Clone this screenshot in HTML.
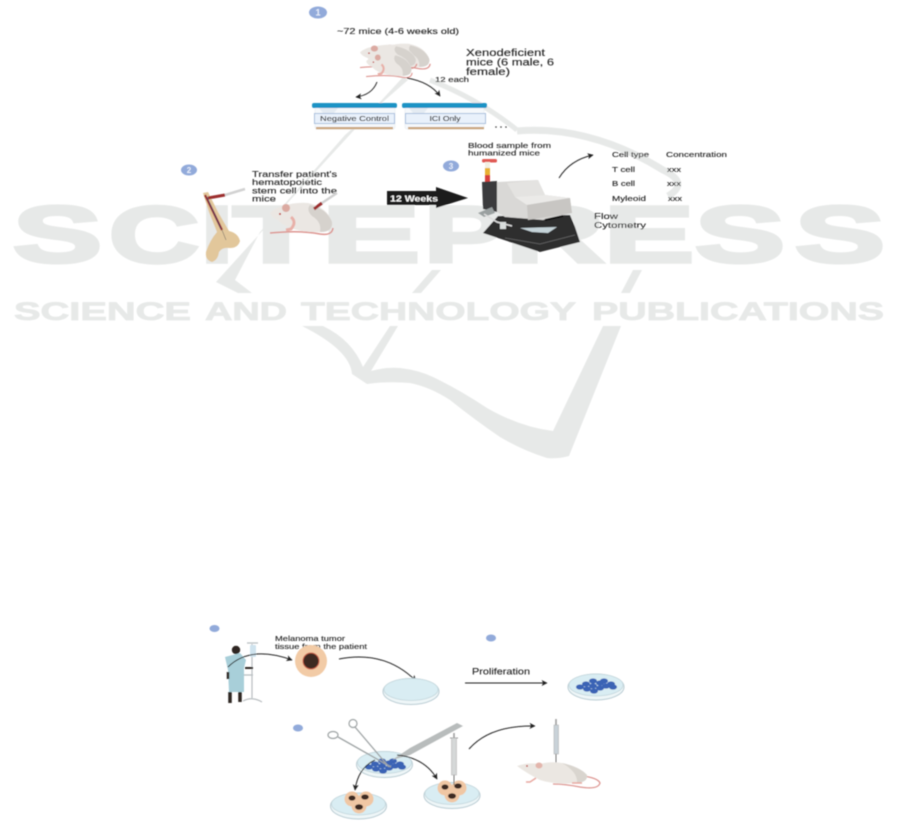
<!DOCTYPE html>
<html><head><meta charset="utf-8"><style>
html,body{margin:0;padding:0;background:#fff;width:901px;height:835px;overflow:hidden}
svg{display:block}
text{font-family:"Liberation Sans",sans-serif;fill:#222;stroke:#222;stroke-width:.12}
.w text{fill:#e7e9e8;stroke:#e7e9e8;font-weight:700}
.w1 text{font-size:80px;stroke-width:3.5px}
.w2 text{font-size:25px;stroke-width:.8px}
</style></head><body>
<svg width="901" height="835" viewBox="0 0 901 835" xmlns="http://www.w3.org/2000/svg">
<defs>
<filter id="b" x="-5%" y="-5%" width="110%" height="110%"><feGaussianBlur stdDeviation="0.4"/></filter>
<marker id="a" viewBox="0 0 10 10" refX="9" refY="5" markerWidth="6" markerHeight="6" orient="auto"><path d="M0 0L10 5L0 10L2.5 5Z" fill="#222"/></marker>
<g id="mouse">
<path d="M270 233Q300 230 320 234Q332 236 333 228" fill="none" stroke="#dd9490" stroke-width="1.500"/>
<path d="M270 213Q276 207 283 206Q296 202 308 203Q327 207 332 222Q333 232 322 232Q305 233 290 228Q281 224 278 220Q272 218 270 213Z" fill="#ebe7e3"/>
<path d="M310 205Q327 209 332 222Q333 232 320 232Q322 222 312 216Q306 210 310 205Z" fill="#d6d2cd"/>
<ellipse cx="286" cy="208" rx="4" ry="4" fill="#dbaaa2"/>
<path d="M291 217Q297 222 291 229L286 230" fill="none" stroke="#e8b0a8" stroke-width="3"/>
<circle cx="280" cy="214" r="1" fill="#b33"/>
</g>
<g id="dish">
<ellipse cx="0" cy="1" rx="28" ry="13" fill="#eef6f8" stroke="#b9ccd3" stroke-width="1"/>
<ellipse cx="0" cy="-1" rx="27" ry="11" fill="#d9edf3" stroke="#c2d5db" stroke-width=".8"/>
</g>
<g id="cells" fill="#3a64b5">
<ellipse cx="-16" cy="1" rx="4" ry="2.600"/><ellipse cx="-10" cy="-2" rx="4" ry="2.600"/><ellipse cx="-9" cy="3" rx="4" ry="2.600"/><ellipse cx="-3" cy="-5" rx="4" ry="2.600"/><ellipse cx="-3" cy="0" rx="4" ry="2.600"/><ellipse cx="-2" cy="5" rx="4" ry="2.600"/><ellipse cx="4" cy="-3" rx="4" ry="2.600"/><ellipse cx="4" cy="2" rx="4" ry="2.600"/><ellipse cx="8" cy="-5" rx="4" ry="2.600"/><ellipse cx="10" cy="0" rx="4" ry="2.600"/><ellipse cx="15" cy="-2" rx="4" ry="2.600"/><ellipse cx="17" cy="1" rx="4" ry="2.600"/>
</g>
<g id="blobs">
<circle cx="-7" cy="-2" r="7.500" fill="#f0c7a4"/><circle cx="7" cy="-2" r="7.500" fill="#f0c7a4"/><circle cx="0" cy="5" r="7.500" fill="#f0c7a4"/>
<ellipse cx="-7" cy="-3" rx="3.500" ry="2.600" fill="#3d2a22"/><ellipse cx="6" cy="-4" rx="3.800" ry="2.600" fill="#3d2a22"/><ellipse cx="0" cy="6" rx="4" ry="2.800" fill="#3d2a22"/>
</g>
</defs>
<g filter="url(#b)">
<!-- watermark -->
<g fill="#e7e9e8" stroke="none">
<path d="M403 77L322 165L216 282L238 293L252 293L235 280L260 232L345 135L408 80Z"/>
<path d="M302 326L323 326Q352 340 363 367L390 326L398 326L371 371Q385 367 400 368Q418 370 433 377Q460 390 487 408Q520 427 553 431L603 326L621 326L569 456Q558 459 547 458Q522 450 500 437Q475 420 450 400Q430 387 410 383Q388 381 367 384L352 374Q350 350 302 326Z"/>
<path d="M633 270L642 270L630 293L621 293Z"/>
<path d="M432 270L441 270L421 293L412 293Z"/>
<path d="M443 248L447 248L441 258L437 258Z"/>
</g>
<path d="M430 80Q480 100 517 130" fill="none" stroke="#e7e9e8" stroke-width="5"/>
<path d="M517 131Q590 125 663 170Q690 183 668 196" fill="none" stroke="#e7e9e8" stroke-width="7"/>
<g class="w w1">
<text x="13" y="262" textLength="89" lengthAdjust="spacingAndGlyphs">S</text>
<text x="109" y="262" textLength="90" lengthAdjust="spacingAndGlyphs">C</text>
<text x="201" y="262" textLength="32" lengthAdjust="spacingAndGlyphs">I</text>
<text x="233" y="262" textLength="86" lengthAdjust="spacingAndGlyphs">T</text>
<text x="322" y="262" textLength="98" lengthAdjust="spacingAndGlyphs">E</text>
<text x="424" y="262" textLength="82" lengthAdjust="spacingAndGlyphs">P</text>
<text x="506" y="262" textLength="98" lengthAdjust="spacingAndGlyphs">R</text>
<text x="604" y="262" textLength="90" lengthAdjust="spacingAndGlyphs">E</text>
<text x="695" y="262" textLength="90" lengthAdjust="spacingAndGlyphs">S</text>
<text x="795" y="262" textLength="90" lengthAdjust="spacingAndGlyphs">S</text>
</g>
<g class="w w2">
<text x="14" y="320" textLength="177" lengthAdjust="spacingAndGlyphs">SCIENCE</text>
<text x="205" y="320" textLength="82" lengthAdjust="spacingAndGlyphs">AND</text>
<text x="301" y="320" textLength="275" lengthAdjust="spacingAndGlyphs">TECHNOLOGY</text>
<text x="592" y="320" textLength="292" lengthAdjust="spacingAndGlyphs">PUBLICATIONS</text>
</g>

<!-- top: step 1 -->
<ellipse cx="318" cy="12.500" rx="9" ry="6" fill="#92aada"/><text x="318" y="15.500" font-size="9" font-weight="700" text-anchor="middle" style="fill:#e8eefa;stroke:none">1</text>
<text x="337" y="34" font-size="8" textLength="122" lengthAdjust="spacingAndGlyphs">~72 mice (4-6 weeks old)</text>
<use href="#mouse" transform="translate(143.800,-118.600) scale(.86,.8)"/>
<use href="#mouse" transform="translate(117,-109.500) scale(.9,.76)"/>
<use href="#mouse" transform="translate(169,-100.500) scale(.73,.76)"/>
<text x="466" y="56" font-size="10" textLength="79" lengthAdjust="spacingAndGlyphs">Xenodeficient</text>
<text x="466" y="65.500" font-size="10" textLength="88" lengthAdjust="spacingAndGlyphs">mice (6 male, 6</text>
<text x="466" y="75" font-size="10" textLength="44" lengthAdjust="spacingAndGlyphs">female)</text>
<text x="435" y="82" font-size="7" textLength="34" lengthAdjust="spacingAndGlyphs">12 each</text>
<path d="M377 82Q372 95 356 97" fill="none" stroke="#222" stroke-width="1" marker-end="url(#a)"/>
<path d="M407 78Q430 82 440 96" fill="none" stroke="#222" stroke-width="1" marker-end="url(#a)"/>

<rect x="315" y="107" width="80" height="22" rx="2" fill="#f5f8fb" stroke="#e6ebf0" stroke-width=".6"/>
<path d="M319 108H338L334 113H323Z" fill="#e4ebf2"/>
<rect x="312" y="103" width="85" height="5" rx="2" fill="#1c93c5"/>
<rect x="314.500" y="113.500" width="80" height="10" fill="#e9f1fb" stroke="#a9c0dd"/>
<rect x="316" y="127" width="77" height="2.200" fill="#c9a47a"/>
<text x="354.500" y="120.800" font-size="7" text-anchor="middle" textLength="69" lengthAdjust="spacingAndGlyphs">Negative Control</text>
<rect x="405" y="107" width="79" height="22" rx="2" fill="#f5f8fb" stroke="#e6ebf0" stroke-width=".6"/>
<path d="M409 108H428L424 113H413Z" fill="#e4ebf2"/>
<rect x="402" y="103" width="85" height="5" rx="2" fill="#1c93c5"/>
<rect x="405.500" y="113.500" width="80" height="10" fill="#e9f1fb" stroke="#a9c0dd"/>
<rect x="408" y="127" width="76" height="2.200" fill="#c9a47a"/>
<text x="445" y="120.800" font-size="7" text-anchor="middle" textLength="31" lengthAdjust="spacingAndGlyphs">ICI Only</text>
<g fill="#333"><circle cx="496" cy="127" r=".8"/><circle cx="501" cy="127" r=".8"/><circle cx="506" cy="127" r=".8"/></g>

<!-- step 2 -->
<ellipse cx="189" cy="170" rx="8" ry="5.500" fill="#92aada"/><text x="189" y="173" font-size="8" font-weight="700" text-anchor="middle" style="fill:#e8eefa;stroke:none">2</text>
<path d="M203 193L208 192L218 212L229 231Q238 233 240 241Q238 248 230 248Q222 247 219 252Q218 260 212 262Q205 260 206 252Q210 240 217 232L209 212Z" fill="#e2c79b"/>
<path d="M205 195L222 230" stroke="#9c2f2f" stroke-width="2.200" fill="none"/>
<path d="M207 197L221 229" stroke="#33416e" stroke-width=".8" fill="none"/>
<path d="M222 230L226 240" stroke="#555" stroke-width=".5"/>
<path d="M208 198L225 195" stroke="#9c2f2f" stroke-width="3"/>
<path d="M225 195L245 189" stroke="#d2d2d2" stroke-width="2.500"/>
<text x="252" y="177" font-size="8.500" textLength="85" lengthAdjust="spacingAndGlyphs">Transfer patient's</text>
<text x="252" y="185" font-size="8.500" textLength="70" lengthAdjust="spacingAndGlyphs">hematopoietic</text>
<text x="252" y="193.500" font-size="8.500" textLength="85" lengthAdjust="spacingAndGlyphs">stem cell into the</text>
<text x="252" y="201.500" font-size="8.500" textLength="24" lengthAdjust="spacingAndGlyphs">mice</text>
<use href="#mouse"/>
<path d="M314 209L322 203" stroke="#9c2f2f" stroke-width="3"/><path d="M322 203L337 193" stroke="#d2d2d2" stroke-width="2.500"/>

<!-- arrow -->
<path d="M387 191H436V187L468 198L436 208V205H387Z" fill="#1c1c1c"/>
<text x="390" y="201.500" font-size="8.500" font-weight="700" textLength="48" lengthAdjust="spacingAndGlyphs" style="fill:#fff;stroke:none">12 Weeks</text>

<!-- step 3 -->
<ellipse cx="451" cy="166" rx="8" ry="5.500" fill="#92aada"/><text x="451" y="169" font-size="8" font-weight="700" text-anchor="middle" style="fill:#e8eefa;stroke:none">3</text>
<text x="468" y="148" font-size="7.500" textLength="83" lengthAdjust="spacingAndGlyphs">Blood sample from</text>
<text x="468" y="155.500" font-size="7.500" textLength="72" lengthAdjust="spacingAndGlyphs">humanized mice</text>
<rect x="482" y="159" width="15" height="3.500" rx="1.500" fill="#e05a55"/>
<rect x="485" y="162" width="5" height="6" fill="#f3f0e2"/><rect x="485" y="168" width="5" height="7" fill="#e8b030"/><rect x="485" y="175" width="5" height="10" fill="#d8403c"/>
<path d="M482 182L497 181V212L483 209Z" fill="#3a3a3c"/>
<path d="M483 233L498 216L570 215L575 227L580 242L540 252Z" fill="#2d2d2f"/>
<path d="M505 238L540 244L575 235" stroke="#666" stroke-width=".7" fill="none"/>
<path d="M520 228L557 227L548 233L532 232Z" fill="#c5d3d8"/>
<path d="M478 213L492 207L495 213L484 217Z" fill="#9aa0a0"/>
<path d="M484 214L497 222L512 226" stroke="#ddd" stroke-width="1.500" fill="none"/>
<rect x="500" y="222" width="6" height="7" fill="#d8dcdc"/>
<path d="M497 182L538 180L545 195L570 198L572 213L543 220L505 217L497 212Z" fill="#d9d8d6"/>
<path d="M507 183L538 180L545 195L515 197Z" fill="#e4e3e1"/>
<path d="M515 197L545 195L570 198L527 205Z" fill="#ebeae8"/>
<path d="M527 205L570 198L572 213L528 220Z" fill="#c8c6c3"/>
<path d="M545 220L563 216" stroke="#111" stroke-width="2"/>
<path d="M559 178Q570 160 593 155" fill="none" stroke="#222" stroke-width="1" marker-end="url(#a)"/>
<g font-size="7">
<text x="612" y="157" textLength="37" lengthAdjust="spacingAndGlyphs">Cell type</text>
<text x="666" y="157" textLength="61" lengthAdjust="spacingAndGlyphs">Concentration</text>
<text x="612" y="172" textLength="23" lengthAdjust="spacingAndGlyphs">T cell</text>
<text x="667" y="172" textLength="14" lengthAdjust="spacingAndGlyphs">xxx</text>
<text x="612" y="186" textLength="23" lengthAdjust="spacingAndGlyphs">B cell</text>
<text x="667" y="186" textLength="14" lengthAdjust="spacingAndGlyphs">xxx</text>
<text x="612" y="201" textLength="34" lengthAdjust="spacingAndGlyphs">Myleoid</text>
<text x="668" y="201" textLength="14" lengthAdjust="spacingAndGlyphs">xxx</text>
</g>
<text x="594" y="219" font-size="8.500" textLength="24" lengthAdjust="spacingAndGlyphs">Flow</text>
<text x="594" y="228" font-size="8.500" textLength="52" lengthAdjust="spacingAndGlyphs">Cytometry</text>

<!-- bottom -->
<ellipse cx="214.500" cy="628.500" rx="5" ry="3.500" fill="#92aada"/>
<ellipse cx="491" cy="638" rx="5" ry="3.500" fill="#92aada"/>
<ellipse cx="298" cy="728" rx="5" ry="3.500" fill="#92aada"/>
<text x="275" y="641" font-size="7.500" textLength="70" lengthAdjust="spacingAndGlyphs">Melanoma tumor</text>
<text x="275" y="649" font-size="7.500" textLength="92" lengthAdjust="spacingAndGlyphs">tissue from the patient</text>
<!-- patient -->
<path d="M252 644V698M243 701Q252 696 262 702M247 643H258M240 675H253" stroke="#b8bdc0" stroke-width="1.200" fill="none"/>
<rect x="250" y="645" width="6" height="12" rx="1" fill="#cfe3ee"/>
<circle cx="236" cy="650" r="4.200" fill="#2e2620"/>
<path d="M225 657L240 653L246 660L244 668L244 692H229L228 670Z" fill="#a8cfd9"/>
<path d="M245 668H253" stroke="#2e2620" stroke-width="2"/>
<path d="M228 679L228 672" stroke="#2e2620" stroke-width="2.500"/>
<path d="M230 692V703M240 692V702" stroke="#2e2620" stroke-width="3.500"/>
<path d="M228 667Q250 645 292 660" fill="none" stroke="#222" stroke-width="1" marker-end="url(#a)"/>
<circle cx="311" cy="661" r="16" fill="#f2cba6"/>
<circle cx="311" cy="661" r="8" fill="#3d2a22" stroke="#c45a45" stroke-width="1"/>
<path d="M339 659Q385 650 416 681" fill="none" stroke="#222" stroke-width="1" marker-end="url(#a)"/>
<use href="#dish" x="411" y="690.500"/>
<text x="472" y="674.500" font-size="9.500" textLength="58" lengthAdjust="spacingAndGlyphs">Proliferation</text>
<path d="M465 683H547" stroke="#222" stroke-width="1" marker-end="url(#a)"/>
<use href="#dish" x="596" y="686"/>
<use href="#cells" x="596" y="686"/>
<!-- dish with cells + tools -->
<use href="#dish" x="384.500" y="763.500"/>
<use href="#cells" x="385" y="766"/>
<g fill="none" stroke="#9fa4a5" stroke-width="1.200">
<ellipse cx="333" cy="735" rx="5" ry="3.500"/><ellipse cx="353" cy="723.500" rx="4" ry="4"/>
<path d="M338 737L391 767M355 727L389 767" stroke-width="1.300"/>
</g>
<path d="M410 748L457 723L463 726L410 755L392 760Z" fill="#b8bcbc"/>
<use href="#dish" x="358.500" y="805"/>
<use href="#blobs" x="359" y="801"/>
<use href="#dish" x="452" y="794.500"/>
<use href="#blobs" x="452" y="790"/>
<path d="M375 760Q358 768 355 790" fill="none" stroke="#222" stroke-width="1" marker-end="url(#a)"/>
<path d="M397 755Q425 758 437 779" fill="none" stroke="#222" stroke-width="1" marker-end="url(#a)"/>
<path d="M454 733V738" stroke="#999" stroke-width="1.500"/><path d="M450 738H458" stroke="#999" stroke-width="1"/>
<rect x="451.500" y="738" width="5" height="37" fill="#d5d8d8" stroke="#aaa" stroke-width=".5"/>
<path d="M454 775V785" stroke="#777"/>
<path d="M469 749Q490 725 535 726" fill="none" stroke="#222" stroke-width="1" marker-end="url(#a)"/>
<path d="M556 719V725" stroke="#999" stroke-width="1.500"/>
<rect x="554" y="725" width="4.500" height="29" fill="#c8d2d8" stroke="#aaa" stroke-width=".5"/>
<path d="M556 754V764" stroke="#777"/>
<path d="M583 776Q598 778 600 783Q598 790 580 787Q565 784 553 784" fill="none" stroke="#dd9490" stroke-width="1.300"/>
<path d="M517 766Q528 762 540 764Q550 761 562 763Q580 767 587 775Q588 782 577 783Q555 785 540 780Q528 774 517 766Z" fill="#ebe7e2"/>
<path d="M562 763Q580 767 587 775Q588 782 577 783Q578 772 562 763Z" fill="#d9d5cf"/>
<ellipse cx="539" cy="765.500" rx="3.500" ry="3" fill="#e3b5ac"/>
<circle cx="527" cy="766" r=".9" fill="#b33"/>
<path d="M536 778L530 782L526 782M572 783L582 783" stroke="#e8a8a0" stroke-width="1.500" fill="none"/>
</g>
</svg>
</body></html>
